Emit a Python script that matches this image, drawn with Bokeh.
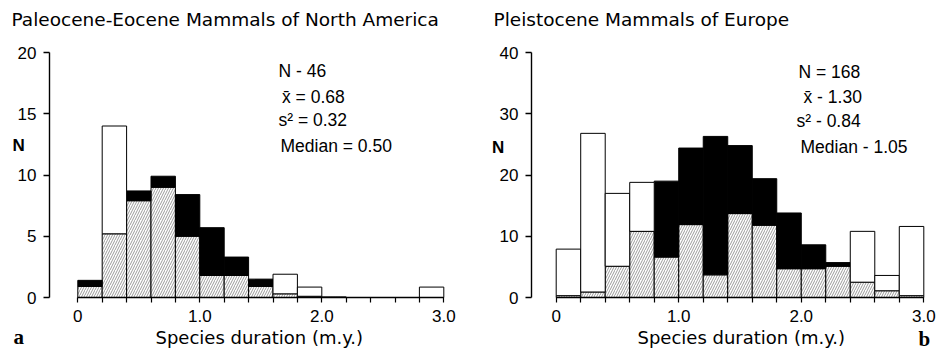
from bokeh.plotting import figure
from bokeh.models import Label, FixedTicker, CustomJSTickFormatter, Range1d
from bokeh.layouts import row
from bokeh.embed import file_html
from bokeh.resources import INLINE

# ---------------- data ----------------
bin_left = [0.0, 0.2, 0.4, 0.6, 0.8, 1.0, 1.2, 1.4, 1.6, 1.8, 2.0, 2.2, 2.4, 2.6, 2.8]
bin_width = 0.2

# Paleocene-Eocene Mammals of North America (a)
pe_hatched = [0.9, 5.2, 7.9, 9.0, 5.0, 1.8, 1.8, 0.9, 0.3, 0.1, 0.05, 0, 0, 0, 0]
pe_black = [0.5, 0, 0.8, 0.9, 3.4, 3.9, 1.5, 0.6, 0, 0, 0, 0, 0, 0, 0]
pe_white = [0, 8.8, 0, 0, 0, 0, 0, 0, 1.6, 0.75, 0, 0, 0, 0, 0.85]

# Pleistocene Mammals of Europe (b)
pl_hatched = [0.3, 0.9, 5.1, 10.8, 6.6, 11.9, 3.7, 13.7, 11.8, 4.7, 4.7, 5.1, 2.5, 1.1, 0.3]
pl_black = [0, 0, 0, 0, 12.4, 12.5, 22.6, 11.1, 7.6, 9.1, 3.9, 0.6, 0, 0, 0]
pl_white = [7.6, 25.9, 11.9, 8.0, 0, 0, 0, 0, 0, 0, 0, 0, 8.3, 2.5, 11.3]

pe_title = "Paleocene-Eocene Mammals of North America"
pl_title = "Pleistocene Mammals of Europe"
pe_stats = ["N - 46", "x\u0304 = 0.68", "s\u00b2 = 0.32", "Median = 0.50"]
pl_stats = ["N = 168", "x\u0304 - 1.30", "s\u00b2 - 0.84", "Median - 1.05"]
pe_yticks = [0, 5, 10, 15, 20]
pl_yticks = [0, 10, 20, 30, 40]
x_ticks = [round(0.2 * i, 1) for i in range(16)]
x_label = "Species duration (m.y.)"
y_label = "N"

SANS = "Liberation Sans"
WIDE = "DejaVu Sans"
SERIF = "Liberation Serif"
FIG_H = 352
Y0_PX = 297.0      # pixel row of value 0
YTOP_PX = 52.0     # pixel row of the top tick


def panel(hatched, black, white, yticks, fig_w, axis_px, x0_px, x3_px,
          title, title_x, stats, stats_pos, n_pos, xlab_x, letter, letter_pos):
    ymax = yticks[-1]
    ppu = (x3_px - x0_px) / 3.0
    ppy = (Y0_PX - YTOP_PX) / ymax

    def dx(fx):
        return (fx - x0_px) / ppu

    def dy(fy):
        return (Y0_PX - fy) / ppy

    p = figure(width=fig_w, height=FIG_H, output_backend="svg", toolbar_location=None,
               x_range=Range1d(dx(0), dx(fig_w)), y_range=Range1d(dy(FIG_H), dy(0)),
               min_border_left=0, min_border_right=0,
               min_border_top=0, min_border_bottom=0)
    p.outline_line_color = None
    p.xgrid.visible = False
    p.ygrid.visible = False
    p.background_fill_color = "white"
    p.border_fill_color = "white"

    centers = [b + bin_width / 2 for b in bin_left]
    tops_b = [h + k for h, k in zip(hatched, black)]
    tops_w = [t + w for t, w in zip(tops_b, white)]

    p.vbar(x=centers, width=bin_width, bottom=0, top=hatched,
           fill_color="white", hatch_pattern="/", hatch_color="#555555",
           hatch_weight=0.6, hatch_scale=5, line_color="black", line_width=1)
    bx = [c for c, k in zip(centers, black) if k > 0]
    bb = [h for h, k in zip(hatched, black) if k > 0]
    bt = [t for t, k in zip(tops_b, black) if k > 0]
    p.vbar(x=bx, width=bin_width, bottom=bb, top=bt,
           fill_color="black", line_color="black", line_width=1)
    wx = [c for c, w in zip(centers, white) if w > 0]
    wb = [t for t, w in zip(tops_b, white) if w > 0]
    wt = [t for t, w in zip(tops_w, white) if w > 0]
    p.vbar(x=wx, width=bin_width, bottom=wb, top=wt,
           fill_color="white", line_color="black", line_width=1)

    # axes (drawn at fixed data locations so the frame fills the canvas)
    ya = p.yaxis[0]
    ya.fixed_location = dx(axis_px)
    ya.ticker = FixedTicker(ticks=yticks)
    ya.bounds = (0, ymax)
    ya.major_tick_in = 0
    ya.major_tick_out = 6
    ya.minor_tick_line_color = None
    ya.axis_line_width = 1.4
    ya.major_tick_line_width = 1.3
    ya.major_label_standoff = 7
    ya.major_label_text_font = SANS
    ya.major_label_text_font_size = "17px"
    ya.major_label_text_color = "black"

    xa = p.xaxis[0]
    xa.fixed_location = 0
    xa.ticker = FixedTicker(ticks=x_ticks)
    xa.bounds = (0, 3)
    xa.major_tick_in = 0
    xa.major_tick_out = 5
    xa.minor_tick_line_color = None
    xa.axis_line_width = 1.5
    xa.major_tick_line_width = 1.2
    xa.major_label_standoff = 7
    xa.major_label_text_font = SANS
    xa.major_label_text_font_size = "17px"
    xa.major_label_text_color = "black"
    xa.formatter = CustomJSTickFormatter(code="""
        if (Math.abs(tick - Math.round(tick)) < 1e-6) {
            return tick == 0 ? "0" : tick.toFixed(1);
        }
        return "";
    """)

    # texts (all vertically centred on the given pixel rows)
    p.add_layout(Label(x=dx(title_x), y=dy(18.5), text=title, text_font=WIDE,
                       text_font_size="18.5px", text_baseline="middle",
                       text_align="left", text_color="black"))
    for s, (sx, sy) in zip(stats, stats_pos):
        p.add_layout(Label(x=dx(sx), y=dy(sy), text=s, text_font=SANS,
                           text_font_size="17.5px", text_baseline="middle",
                           text_align="left", text_color="black"))
    p.add_layout(Label(x=dx(n_pos[0]), y=dy(n_pos[1]), text=y_label, text_font=SANS,
                       text_font_size="17px", text_font_style="bold",
                       text_baseline="middle", text_align="left", text_color="black"))
    p.add_layout(Label(x=dx(xlab_x), y=dy(337), text=x_label, text_font=WIDE,
                       text_font_size="18px", text_baseline="middle",
                       text_align="left", text_color="black"))
    p.add_layout(Label(x=dx(letter_pos[0]), y=dy(letter_pos[1]), text=letter,
                       text_font=SERIF, text_font_size="21px", text_font_style="bold",
                       text_baseline="middle", text_align="left", text_color="black"))
    return p


left = panel(pe_hatched, pe_black, pe_white, pe_yticks, fig_w=470,
             axis_px=49, x0_px=77.3, x3_px=443.3,
             title=pe_title, title_x=11,
             stats=pe_stats,
             stats_pos=[(278, 70), (281.5, 96), (278, 119.5), (280, 145)],
             n_pos=(12, 145), xlab_x=155, letter="a", letter_pos=(13, 336.5))

right = panel(pl_hatched, pl_black, pl_white, pl_yticks, fig_w=467,
              axis_px=61, x0_px=85.7, x3_px=453.3,
              title=pl_title, title_x=23,
              stats=pl_stats,
              stats_pos=[(328, 71.5), (333, 96.5), (326, 120.5), (330, 146.5)],
              n_pos=(21.5, 146.5), xlab_x=167, letter="b", letter_pos=(448, 338))

layout = row(left, right)
open("out.html", "w").write(file_html(layout, INLINE))
